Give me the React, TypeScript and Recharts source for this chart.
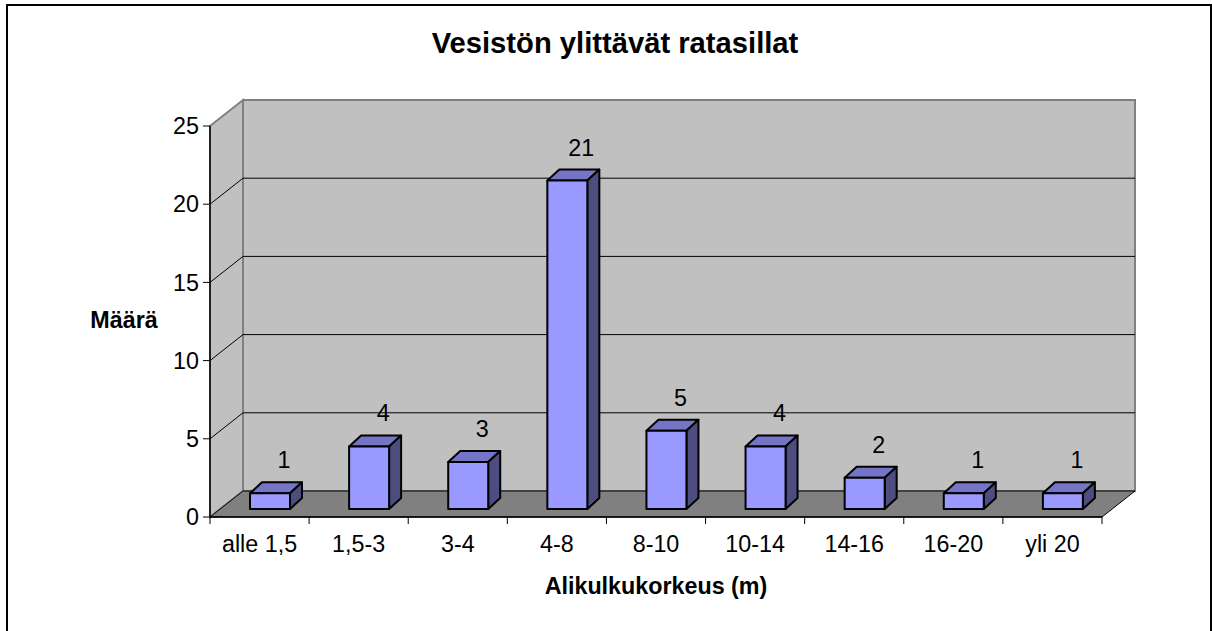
import React from 'react';
import { BarChart, Bar, XAxis, YAxis, CartesianGrid, LabelList } from 'recharts';

const categories = ['alle 1,5', '1,5-3', '3-4', '4-8', '8-10', '10-14', '14-16', '16-20', 'yli 20'];
const counts = [1, 4, 3, 21, 5, 4, 2, 1, 1];
const yTicks = [0, 5, 10, 15, 20, 25];

const data = categories.map((cat, i) => ({ cat, count: counts[i] }));

const W = 1212;
const H = 631;
// front plane of the plot area
const L = 210;
const R = 1102;
const T = 126;
const B = 517;
// depth of the 3d box (back wall offset)
const DX = 33;
const DY = 26;
// bars sit a bit behind the front plane
const BX = 10;
const BY = -8;
// bar top/side depth
const TX = 12;
const TY = -11;

const FONT = '"Liberation Sans", Arial, sans-serif';

const Box3D = (p: any) => {
  const { x, y, width, height } = p;
  const fx = x + BX;
  const fy = y + BY;
  const w = width;
  const h = height;
  return (
    <g stroke="#000" strokeWidth={2} strokeLinejoin="round">
      <polygon
        points={`${fx},${fy} ${fx + TX},${fy + TY} ${fx + w + TX},${fy + TY} ${fx + w},${fy}`}
        fill="#7575c8"
      />
      <polygon
        points={`${fx + w},${fy} ${fx + w + TX},${fy + TY} ${fx + w + TX},${fy + h + TY} ${fx + w},${fy + h}`}
        fill="#4d4d80"
      />
      <rect x={fx} y={fy} width={w} height={h} fill="#9999ff" />
    </g>
  );
};

const BarLabel = (p: any) => {
  const { x, y, width, value } = p;
  return (
    <text
      x={x + width / 2 + BX + 14}
      y={y + BY - 25}
      textAnchor="middle"
      fontFamily={FONT}
      fontSize={23.3}
      fill="#000"
    >
      {value}
    </text>
  );
};

const gridLine = (p: any) => {
  const y = p.y1;
  const k = `g-${y}`;
  if (Math.abs(y - B) < 1 || Math.abs(y - T) < 1) return <g key={k} />;
  return (
    <g key={k} stroke="#000" strokeWidth={1}>
      <line x1={p.x1} y1={y} x2={p.x1 + DX} y2={y - DY} />
      <line x1={p.x1 + DX} y1={y - DY} x2={p.x2 + DX} y2={y - DY} />
    </g>
  );
};

const XTick = (p: any) => {
  const { x, index } = p;
  const half = (R - L) / categories.length / 2;
  return (
    <g>
      <line x1={x - half} y1={B} x2={x - half} y2={B + 7} stroke="#000" strokeWidth={1} />
      {index === categories.length - 1 && (
        <line x1={x + half} y1={B} x2={x + half} y2={B + 7} stroke="#000" strokeWidth={1} />
      )}
      <text x={x} y={552} textAnchor="middle" fontFamily={FONT} fontSize={23.3} fill="#000">
        {p.payload.value}
      </text>
    </g>
  );
};

export default function App() {
  return (
    <div style={{ position: 'relative', width: W, height: H, margin: -8, background: '#fff' }}>
      <svg width={W} height={H} style={{ position: 'absolute', left: 0, top: 0 }}>
        {/* back wall */}
        <rect x={L + DX} y={T - DY} width={R - L} height={B - T} fill="#c0c0c0" stroke="#808080" strokeWidth={2} />
        {/* side wall */}
        <polygon
          points={`${L},${T} ${L + DX},${T - DY} ${L + DX},${B - DY} ${L},${B}`}
          fill="#c0c0c0"
          stroke="#808080"
          strokeWidth={2}
        />
        {/* floor */}
        <polygon
          points={`${L},${B} ${L + DX},${B - DY} ${R + DX},${B - DY} ${R},${B}`}
          fill="#808080"
          stroke="#000"
          strokeWidth={1}
        />
        <text x={615} y={53} textAnchor="middle" fontFamily={FONT} fontWeight="bold" fontSize={29.2} fill="#000">
          Vesistön ylittävät ratasillat
        </text>
        <text x={124} y={328} textAnchor="middle" fontFamily={FONT} fontWeight="bold" fontSize={23.3} fill="#000">
          Määrä
        </text>
        <text x={656} y={594} textAnchor="middle" fontFamily={FONT} fontWeight="bold" fontSize={23.3} fill="#000">
          Alikulkukorkeus (m)
        </text>
      </svg>
      <div style={{ position: 'absolute', left: 0, top: 0 }}>
        <BarChart
          width={W}
          height={H}
          data={data}
          margin={{ left: 0, right: W - R, top: T, bottom: 0 }}
          barSize={40}
        >
          <CartesianGrid vertical={false} horizontal={gridLine} fill="none" />
          <XAxis
            dataKey="cat"
            axisLine={{ stroke: '#000', strokeWidth: 1.5 }}
            tickLine={false}
            tick={<XTick />}
            interval={0}
            height={H - B}
          />
          <YAxis
            domain={[0, 25]}
            ticks={yTicks}
            axisLine={{ stroke: '#000', strokeWidth: 1.5 }}
            tickLine={{ stroke: '#000' }}
            tickSize={7}
            tickMargin={4}
            tick={{ fontFamily: FONT, fontSize: 23.3, fill: '#000' }}
            width={L}
          />
          <Bar dataKey="count" shape={<Box3D />} isAnimationActive={false}>
            <LabelList dataKey="count" content={<BarLabel />} />
          </Bar>
        </BarChart>
      </div>
      {/* chart frame; fixed so it reaches the window edges, its bottom runs off the picture */}
      <div
        style={{
          position: 'fixed',
          left: 6,
          top: 4,
          width: 1206,
          height: 660,
          border: '2px solid #000',
          boxSizing: 'border-box',
          pointerEvents: 'none',
        }}
      />
    </div>
  );
}
